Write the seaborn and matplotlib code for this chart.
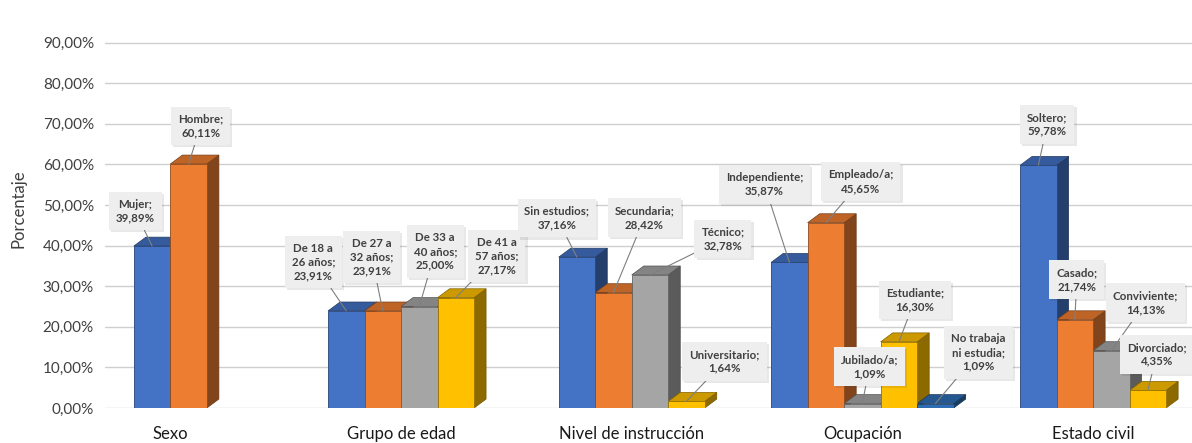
import numpy as np
import pandas as pd
import matplotlib
matplotlib.use("Agg")
import matplotlib.pyplot as plt
import seaborn as sns
from matplotlib.patches import Polygon
from matplotlib.colors import to_rgb
import matplotlib.patheffects as pe

# ---------------- data ----------------
groups = ["Sexo", "Grupo de edad", "Nivel de instrucción", "Ocupación", "Estado civil"]

sexo_items = ["Mujer", "Hombre"]
sexo_vals = [39.89, 60.11]

edad_items = ["De 18 a\n26 años", "De 27 a\n32 años", "De 33 a\n40 años", "De 41 a\n57 años"]
edad_vals = [23.91, 23.91, 25.00, 27.17]

instr_items = ["Sin estudios", "Secundaria", "Técnico", "Universitario"]
instr_vals = [37.16, 28.42, 32.78, 1.64]

ocup_items = ["Independiente", "Empleado/a", "Jubilado/a", "Estudiante", "No trabaja\nni estudia"]
ocup_vals = [35.87, 45.65, 1.09, 16.30, 1.09]

civil_items = ["Soltero", "Casado", "Conviviente", "Divorciado"]
civil_vals = [59.78, 21.74, 14.13, 4.35]

y_ticks = [0, 10, 20, 30, 40, 50, 60, 70, 80, 90]

# ---------------- style / layout ----------------
slot_colors = {"s0": "#4472C4", "s1": "#ED7D31", "s2": "#A5A5A5", "s3": "#FFC000", "s4": "#2E6DB4"}
# label offsets (pixels from bar top) -- layout only
label_offsets = [
    [(-17, 35), (12, 38)],
    [(-33, 49), (-11, 54), (16, 55), (41, 42)],
    [(-20, 39), (31, 75), (73, 36), (38, 40)],
    [(-25, 78), (35, 41), (7, 37), (16, 42), (43, 51)],
    [(9, 41), (2, 40), (34, 48), (9, 36)],
]
pitch = 6.32

sns.set_theme(style="white")
plt.rcParams['font.family'] = ['Lato', 'DejaVu Sans']

all_items = [sexo_items, edad_items, instr_items, ocup_items, civil_items]
all_vals = [sexo_vals, edad_vals, instr_vals, ocup_vals, civil_vals]

rows = []
for g, (items, vals) in enumerate(zip(all_items, all_vals)):
    n = len(items)
    for j, (it, v) in enumerate(zip(items, vals)):
        rows.append(dict(grupo=groups[g], item=it, valor=v, slot=f"s{j}",
                         x=g * pitch + j - (n - 1) / 2,
                         off=label_offsets[g][j]))
df = pd.DataFrame(rows)

fig = plt.figure(figsize=(11.92, 4.43), dpi=100)
ax = fig.add_axes([105 / 1192, 35 / 443, 1 - 105 / 1192, 0.898])

sns.barplot(data=df, x="x", y="valor", hue="slot", hue_order=list(slot_colors),
            palette=slot_colors, native_scale=True, dodge=False, width=1,
            saturation=1, legend=False, errorbar=None, ax=ax, zorder=3)

# pseudo-3D faces derived from the drawn bars
dx, dy = 0.33, 2.2
for p in list(ax.patches):
    x0, w, h = p.get_x(), p.get_width(), p.get_height()
    x1 = x0 + w
    c = np.array(to_rgb(p.get_facecolor()))
    p.set_edgecolor(tuple(c * 0.6))
    p.set_linewidth(0.6)
    side = Polygon([(x1, 0), (x1 + dx, dy), (x1 + dx, h + dy), (x1, h)], closed=True,
                   fc=tuple(c * 0.55), ec=tuple(c * 0.45), lw=0.5, zorder=2)
    top = Polygon([(x0, h), (x0 + dx, h + dy), (x1 + dx, h + dy), (x1, h)], closed=True,
                  fc=tuple(c * 0.8), ec=tuple(c * 0.5), lw=0.5, zorder=2)
    ax.add_patch(side)
    ax.add_patch(top)

def fmt(v):
    return f"{v:.2f}".replace(".", ",") + "%"

for _, r in df.iterrows():
    t = ax.annotate(f"{r['item']};\n{fmt(r['valor'])}", xy=(r["x"], r["valor"]),
                    xytext=r["off"], textcoords="offset pixels", ha="center", va="center",
                    fontsize=8.3, fontweight="bold", color="#404040", linespacing=1.3,
                    bbox=dict(boxstyle="square,pad=0.6", fc="#eeeeee", ec="none"),
                    arrowprops=dict(arrowstyle="-", color="#7f7f7f", lw=0.8,
                                    shrinkA=0, shrinkB=0),
                    zorder=6, annotation_clip=False)
    t.get_bbox_patch().set_path_effects(
        [pe.SimplePatchShadow(offset=(1.5, -1.5), alpha=0.12), pe.Normal()])

ax.set_xlim(-1.79, 27.99)
ax.set_ylim(0, 98)
ax.set_yticks(y_ticks, [fmt(v) for v in y_ticks])
ax.set_xticks([g * pitch for g in range(len(groups))], groups)
ax.tick_params(axis="x", length=0, pad=13, labelsize=12, labelcolor="#1a1a1a")
ax.tick_params(axis="y", length=0, pad=8, labelsize=11, labelcolor="#404040")
ax.set_xlabel("")
ax.set_ylabel("Porcentaje", fontsize=12, color="#404040", labelpad=12)
ax.yaxis.grid(True, color="#cfcfcf", lw=1)
ax.set_axisbelow(True)
for s in ax.spines.values():
    s.set_visible(False)

fig.savefig("out.png", dpi=100)
